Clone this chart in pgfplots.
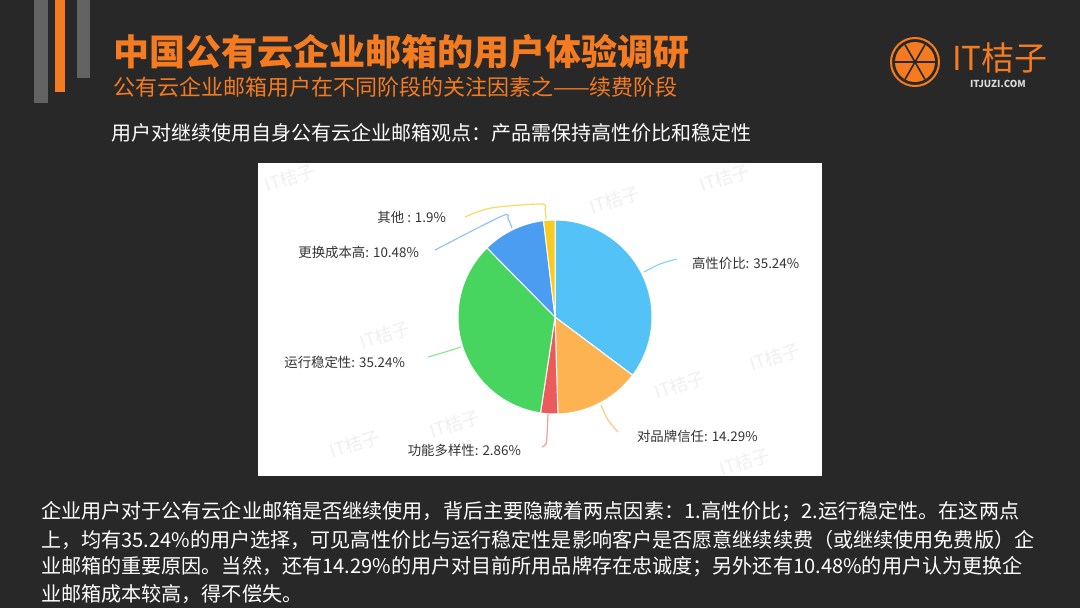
\documentclass[border=0pt]{standalone}
\usepackage{fontspec}
\setmainfont{Noto Sans CJK SC}
\usepackage{pgfplots}
\pgfplotsset{compat=1.18}

\definecolor{bg}{HTML}{282828}
\definecolor{orangeT}{HTML}{F47B20}
\definecolor{barGray}{HTML}{636363}
\definecolor{pBlueL}{HTML}{52C2F7}
\definecolor{pOrange}{HTML}{FDB352}
\definecolor{pRed}{HTML}{EB5B5B}
\definecolor{pGreen}{HTML}{47D45F}
\definecolor{pBlue}{HTML}{4A9DF0}
\definecolor{pYellow}{HTML}{F7CB1F}
\definecolor{lbl}{HTML}{333333}

% one slice: start (%), share (%), colour; clockwise from 12 o'clock
\newcommand{\pieslice}[3]{%
  \filldraw[#3, draw=white, line width=0.5pt] (axis cs:555,317) -- ++({90-3.6*#1}:48.5pt)
    arc[start angle={90-3.6*#1}, end angle={90-3.6*(#1+#2)}, radius=48.5pt] -- cycle;}
\newcommand{\lblfont}{\fontsize{6.7}{8}\selectfont}
\newcommand{\parfont}{\fontsize{10.05}{12}\selectfont}
\newcommand{\wm}[1]{\node[rotate=18, text=black!6, font=\fontsize{9}{10}\selectfont] at (axis cs:#1) {IT桔子};}
\newcommand{\logoline}[1]{\draw[bg, line width=0.8pt] (axis cs:915,62) ++(#1:10pt) -- ++(#1+180:20pt);}

\begin{document}
\begin{tikzpicture}
\begin{axis}[width=540pt, height=304pt, scale only axis,
    xmin=0, xmax=1080, ymin=0, ymax=608, y dir=reverse,
    hide axis, clip=false]
  % slide
  \fill[bg] (axis cs:0,0) rectangle (axis cs:1080,608);
  \fill[barGray] (axis cs:34,0) rectangle (axis cs:48,103);
  \fill[orangeT] (axis cs:55,0) rectangle (axis cs:65,92);
  \fill[barGray] (axis cs:77,0) rectangle (axis cs:90,78);
  \node[anchor=west, text=orangeT, font=\fontsize{18}{20}\selectfont\bfseries]
    at (axis cs:106,52) {中国公有云企业邮箱的用户体验调研};
  \node[anchor=west, text=orangeT, font=\fontsize{11}{13}\selectfont]
    at (axis cs:106,87) {公有云企业邮箱用户在不同阶段的关注因素之——续费阶段};
  \node[anchor=west, text=white, font=\fontsize{10}{12}\selectfont]
    at (axis cs:104,133) {用户对继续使用自身公有云企业邮箱观点：产品需保持高性价比和稳定性};
  % logo
  \draw[orangeT, line width=1pt] (axis cs:915,62) circle[radius=12pt];
  \fill[orangeT] (axis cs:915,62) circle[radius=10pt];
  \logoline{0} \logoline{60} \logoline{120}
  \node[anchor=west, text=orangeT, font=\fontsize{16.5}{18}\selectfont] at (axis cs:945,58) {IT桔子};
  \node[anchor=west, text=white!85!black, font=\fontsize{4.8}{5}\selectfont\bfseries] at (axis cs:963,84) {ITJUZI.COM};
  % panel
  \fill[white] (axis cs:258,163) rectangle (axis cs:822,476);
  \wm{290,178} \wm{615,200} \wm{725,178} \wm{385,335} \wm{775,357}
  \wm{680,385} \wm{455,424} \wm{355,444} \wm{745,462}
  % pie
  \pieslice{0}{35.24}{pBlueL}
  \pieslice{35.24}{14.29}{pOrange}
  \pieslice{49.53}{2.86}{pRed}
  \pieslice{52.39}{35.24}{pGreen}
  \pieslice{87.63}{10.48}{pBlue}
  \pieslice{98.11}{1.90}{pYellow}
  % leader lines
  \addplot[smooth, tension=0.5, line width=0.6pt, color=pYellow!70] coordinates {(465,217) (491,208) (541,204) (545,209) (546,219)};
  \addplot[smooth, tension=0.5, line width=0.6pt, color=pBlue!60] coordinates {(435,250) (502,216) (508,219) (512,228)};
  \addplot[smooth, line width=0.6pt, color=pBlueL!70] coordinates {(644,272) (660,264) (677,259)};
  \addplot[smooth, line width=0.6pt, color=pGreen!60] coordinates {(428,357) (445,352) (461,347)};
  \addplot[smooth, line width=0.6pt, color=pOrange!70] coordinates {(601,405) (608,420) (618,432)};
  \addplot[smooth, tension=0.5, line width=0.6pt, color=pRed!60] coordinates {(548,414) (547,435) (546,444) (542,447)};
  % labels
  \node[anchor=east, text=lbl, font=\lblfont] at (axis cs:453,217) {其他 : 1.9\%};
  \node[anchor=east, text=lbl, font=\lblfont] at (axis cs:426,252) {更换成本高: 10.48\%};
  \node[anchor=west, text=lbl, font=\lblfont] at (axis cs:685,263) {高性价比: 35.24\%};
  \node[anchor=east, text=lbl, font=\lblfont] at (axis cs:412,362) {运行稳定性: 35.24\%};
  \node[anchor=west, text=lbl, font=\lblfont] at (axis cs:630,436) {对品牌信任: 14.29\%};
  \node[anchor=east, text=lbl, font=\lblfont] at (axis cs:528,450) {功能多样性: 2.86\%};
  % commentary
  \node[anchor=west, text=white, font=\parfont] at (axis cs:34,512)
    {企业用户对于公有云企业邮箱是否继续使用，背后主要隐藏着两点因素：1.高性价比；2.运行稳定性。在这两点};
  \node[anchor=west, text=white, font=\parfont] at (axis cs:34,540)
    {上，均有35.24\%的用户选择，可见高性价比与运行稳定性是影响客户是否愿意继续续费（或继续使用免费版）企};
  \node[anchor=west, text=white, font=\parfont] at (axis cs:34,567)
    {业邮箱的重要原因。当然，还有14.29\%的用户对目前所用品牌存在忠诚度；另外还有10.48\%的用户认为更换企};
  \node[anchor=west, text=white, font=\parfont] at (axis cs:34,594)
    {业邮箱成本较高，得不偿失。};
\end{axis}
\end{tikzpicture}
\end{document}
